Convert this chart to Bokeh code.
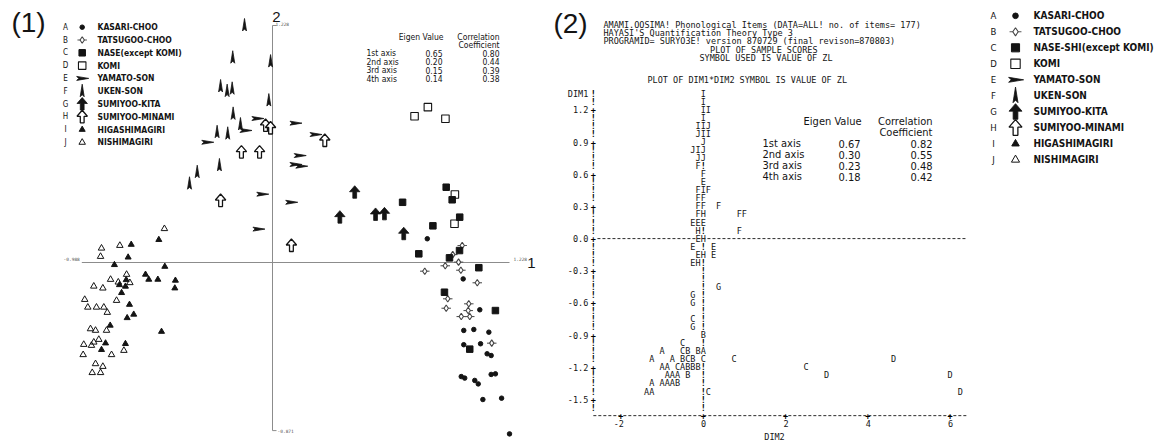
from bokeh.plotting import figure
from bokeh.layouts import row
from bokeh.models import Range1d
from bokeh.core.properties import value
from bokeh.embed import file_html
from bokeh.resources import INLINE

# ======================= DATA =======================
GROUP_CODES = ["A", "B", "C", "D", "E", "F", "G", "H", "I", "J"]
GROUP_NAMES_1 = ["KASARI-CHOO", "TATSUGOO-CHOO", "NASE(except KOMI)", "KOMI", "YAMATO-SON",
                 "UKEN-SON", "SUMIYOO-KITA", "SUMIYOO-MINAMI", "HIGASHIMAGIRI", "NISHIMAGIRI"]
GROUP_NAMES_2 = ["KASARI-CHOO", "TATSUGOO-CHOO", "NASE-SHI(except KOMI)", "KOMI", "YAMATO-SON",
                 "UKEN-SON", "SUMIYOO-KITA", "SUMIYOO-MINAMI", "HIGASHIMAGIRI", "NISHIMAGIRI"]

# ---- panel (1): sample scores, axis 1 (x) vs axis 2 (y)
kasari_x = [0.802, 0.988, 1.074, 0.991, 1.043, 1.121, 0.991, 1.078, 1.112, 1.133, 0.978, 0.996,
            1.048, 1.066, 1.133, 1.155, 1.090, 1.187, 1.228]
kasari_y = [0.123, -0.085, -0.245, -0.352, -0.347, -0.361, -0.426, -0.421, -0.473, -0.482, -0.591,
            -0.599, -0.611, -0.629, -0.580, -0.577, -0.710, -0.703, -0.888]
tatsugoo_x = [0.983, 0.934, 0.964, 0.895, 0.789, 0.976, 1.061, 0.908, 0.900, 1.017, 1.014, 0.978, 1.022, 1.136]
tatsugoo_y = [0.088, 0.041, 0.002, -0.017, -0.045, -0.040, -0.105, -0.188, -0.237, -0.214, -0.249,
              -0.280, -0.280, -0.418]
nase_x = [0.900, 0.931, 0.674, 0.970, 0.831, 0.758, 0.969, 0.917, 1.069, 0.891, 1.022, 1.155]
nase_y = [0.390, 0.325, 0.312, 0.235, 0.190, 0.045, 0.062, 0.024, -0.027, -0.154, -0.449, -0.249]
komi_x = [0.736, 0.805, 0.896, 0.945, 0.943]
komi_y = [0.758, 0.805, 0.745, 0.352, 0.201]
yamato_x = [-0.078, -0.140, -0.338, -0.053, -0.073, 0.119, 0.223, 0.141, 0.119, 0.149, 0.097]
yamato_y = [0.746, 0.684, 0.623, 0.354, 0.173, 0.722, 0.663, 0.554, 0.508, 0.499, 0.312]
uken_x = [-0.145, -0.206, -0.010, -0.269, -0.235, -0.209, -0.019, -0.204, -0.287, -0.232, -0.166,
          -0.275, -0.390, -0.430]
uken_y = [1.228, 1.061, 1.041, 0.912, 0.888, 0.900, 0.839, 0.770, 0.675, 0.667, 0.715, 0.503, 0.468, 0.408]
kita_x = [0.426, 0.349, 0.534, 0.580, 0.680]
kita_y = [0.364, 0.235, 0.249, 0.252, 0.149]
minami_x = [-0.036, -0.010, -0.161, -0.067, -0.269, 0.271, 0.098]
minami_y = [0.710, 0.697, 0.572, 0.572, 0.321, 0.632, 0.088]
higashi_x = [-0.589, -0.732, -0.748, -0.819, -0.558, -0.658, -0.641, -0.594, -0.503, -0.506, -0.758,
             -0.793, -0.762, -0.782, -0.741, -0.719, -0.753, -0.841, -0.575, -0.865, -0.886, -0.762]
higashi_y = [0.118, 0.093, 0.027, -0.012, -0.021, -0.062, -0.088, -0.088, -0.093, -0.133, -0.090,
             -0.116, -0.124, -0.157, -0.218, -0.269, -0.287, -0.326, -0.358, -0.418, -0.452, -0.421]
nishi_x = [-0.560, -0.886, -0.791, -0.891, -0.756, -0.839, -0.799, -0.739, -0.926, -0.879, -0.973,
           -0.808, -0.957, -0.912, -0.874, -0.856, -0.943, -0.917, -0.860, -0.900, -0.926, -0.978,
           -0.938, -0.770, -0.981, -0.834, -0.917, -0.879, -0.934, -0.891]
nishi_y = [0.175, 0.074, 0.088, 0.031, -0.062, -0.088, -0.102, -0.105, -0.123, -0.133, -0.192,
           -0.197, -0.232, -0.232, -0.232, -0.259, -0.344, -0.352, -0.352, -0.399, -0.413, -0.425,
           -0.430, -0.456, -0.478, -0.478, -0.525, -0.539, -0.571, -0.571]

axis1_x_ends = [-0.988, 1.228]
axis1_y_ends = [-0.871, 1.228]
axis1_x_end_labels = ["-0.988", "1.228"]
axis1_y_end_labels = ["-0.871", "1.228"]

eig_axes = ["1st axis", "2nd axis", "3rd axis", "4th axis"]
eig1_values = ["0.65", "0.20", "0.15", "0.14"]
corr1_values = ["0.80", "0.44", "0.39", "0.38"]
eig2_values = ["0.67", "0.30", "0.23", "0.18"]
corr2_values = ["0.82", "0.55", "0.48", "0.42"]

# ---- panel (2): line-printer plot, DIM2 (x) vs DIM1 (y), symbol = ZL
zlA_dim2 = [-1.0, 0.0, -1.25, -0.75, -1.0, -0.875, -0.5, -0.875, -0.75, -0.625, -1.25, -1.0, -0.875, -0.75, -1.375, -1.25]
zlA_dim1 = [-1.05, -1.05, -1.125, -1.125, -1.2, -1.2, -1.2, -1.275, -1.275, -1.275, -1.35, -1.35, -1.35, -1.35, -1.425, -1.425]
zlB_dim2 = [0.0, -0.375, -0.125, -0.5, -0.25, -0.375, -0.25, -0.125, -0.375, -0.625]
zlB_dim1 = [-0.9, -1.05, -1.05, -1.125, -1.125, -1.2, -1.2, -1.2, -1.275, -1.35]
zlC_dim2 = [-0.25, -0.5, -0.5, -0.375, 0.0, 0.75, -0.625, 2.5, 0.125]
zlC_dim1 = [-0.75, -0.975, -1.05, -1.125, -1.125, -1.125, -1.2, -1.2, -1.425]
zlD_dim2 = [4.625, 3.0, 6.0, 6.25]
zlD_dim1 = [-1.125, -1.275, -1.275, -1.425]
zlE_dim2 = [0.0, -0.25, -0.125, 0.0, -0.125, -0.25, 0.25, -0.125, 0.25, -0.25]
zlE_dim1 = [0.525, 0.15, 0.15, 0.15, 0.0, -0.075, -0.075, -0.15, -0.15, -0.225]
zlF_dim2 = [-0.125, 0.0, -0.125, 0.125, -0.125, 0.0, -0.125, 0.0, 0.375, -0.125, 0.875, 1.0, 0.875]
zlF_dim1 = [0.675, 0.6, 0.45, 0.45, 0.375, 0.375, 0.3, 0.3, 0.3, 0.225, 0.225, 0.225, 0.075]
zlG_dim2 = [0.375, -0.25, -0.25, -0.25]
zlG_dim1 = [-0.45, -0.525, -0.6, -0.825]
zlH_dim2 = [0.0, -0.125, 0.0, 0.0, -0.125]
zlH_dim1 = [0.225, 0.075, 0.0, -0.15, -0.225]
zlI_dim2 = [0.0, 0.0, 0.0, 0.125, 0.0, -0.125, 0.0, 0.0, 0.125, -0.125, 0.0]
zlI_dim1 = [1.35, 1.275, 1.2, 1.2, 1.125, 1.05, 1.05, 0.975, 0.975, 0.825, 0.45]
zlJ_dim2 = [0.125, -0.125, 0.0, -0.25, 0.0, -0.125, 0.0]
zlJ_dim1 = [1.05, 0.975, 0.9, 0.825, 0.825, 0.75, 0.75]

dim1_ticks = [1.2, 0.9, 0.6, 0.3, 0.0, -0.3, -0.6, -0.9, -1.2, -1.5]
dim1_tick_labels = ["1.2", "0.9", "0.6", "0.3", "0.0", "-0.3", "-0.6", "-0.9", "-1.2", "-1.5"]
dim2_ticks = [-2, 0, 2, 4, 6]
dim2_tick_labels = ["-2", "0", "2", "4", "6"]
dim1_row_step = 0.075          # printer line height in DIM1 units
dim1_top, dim1_bottom_axis = 1.35, -1.65
dim2_left_axis, dim2_right_end = -2.67, 6.42

header_lines = ["AMAMI.OOSIMA! Phonological Items (DATA=ALL! no. of items= 177)",
                "HAYASI'S Quantification Theory Type 3",
                "PROGRAMID= SURYO3E! version 870729 (final revison=870803)",
                "PLOT OF SAMPLE SCORES",
                "SYMBOL USED IS VALUE OF ZL",
                "PLOT OF DIM1*DIM2    SYMBOL IS VALUE OF ZL"]

# ======================= LAYOUT / STYLE =======================
OFF = 0
W, H = 1162, 443
SPLIT = 548
INK = "#141414"
COND = "DejaVu Sans Condensed"
MONO = "DejaVu Sans Mono"
SANS = "Liberation Sans"

S1, OX1, OY1 = 193.0, 272.0, 262.0
S2X, S2Y, OX2, OY2 = 41.15, 107.3, 702.7, 238.1


def X1(px): return (px - OX1) / S1
def Y1(py): return (OY1 - py) / S1
def X2(px): return (px - OX2) / S2X
def Y2(py): return (OY2 - py) / S2Y


E_POLY = [(6.5, 0), (-5.5, 2.0), (-3.5, 0), (-5.5, -2.0)]
F_POLY = [(0, 7), (2.0, -5.5), (0, -3.5), (-2.0, -5.5)]
ARROW_POLY = [(0, 6.5), (5.2, 0.5), (1.9, 0.5), (1.9, -6), (-1.9, -6), (-1.9, 0.5), (-5.2, 0.5)]


def make_fig(width, xr, yr):
    p = figure(width=width, height=H - 2 * OFF, x_range=Range1d(*xr), y_range=Range1d(*yr),
               output_backend="svg", toolbar_location=None, min_border=0,
               x_axis_location=None, y_axis_location=None)
    p.grid.visible = False
    p.outline_line_color = None
    p.title.visible = False
    p.background_fill_color = "white"
    p.border_fill_color = "white"
    return p


def txt(p, xs, ys, texts, font, size, align="left", baseline="middle", style="normal",
        color=INK, xo=0, yo=0):
    p.text(x=list(xs), y=list(ys), text=list(texts), text_font=value(font),
           text_font_size=f"{size}px", text_align=align, text_baseline=baseline,
           text_font_style=style, text_color=color, x_offset=xo, y_offset=yo)


def draw_marks(p, code, xs, ys, sx, sy, k=1.0):
    xs, ys = list(xs), list(ys)
    if code == "A":
        p.scatter(xs, ys, marker="circle", size=4.5 * k, fill_color=INK, line_color=INK)
    elif code == "B":
        p.scatter(xs, ys, marker="dash", size=9.5 * k, line_color="#555555", line_width=1.1)
        p.scatter(xs, ys, marker="diamond", size=6.5 * k, fill_color="white", line_color="#444444", line_width=1.1)
    elif code == "C":
        p.scatter(xs, ys, marker="square", size=6.5 * k, fill_color=INK, line_color=INK)
    elif code == "D":
        p.scatter(xs, ys, marker="square", size=7.5 * k, fill_color=None, line_color=INK, line_width=1.1)
    elif code in ("E", "F", "G", "H"):
        poly = {"E": E_POLY, "F": F_POLY, "G": ARROW_POLY, "H": ARROW_POLY}[code]
        pxs = [[x + dx * k / sx for dx, dy in poly] for x, y in zip(xs, ys)]
        pys = [[y + dy * k / sy for dx, dy in poly] for x, y in zip(xs, ys)]
        if code == "H":
            p.patches(pxs, pys, fill_color="white", line_color=INK, line_width=1.3)
        else:
            p.patches(pxs, pys, fill_color=INK, line_color=INK, line_width=0.8)
    elif code == "I":
        p.scatter(xs, ys, marker="triangle", size=6 * k, fill_color=INK, line_color=INK)
    elif code == "J":
        p.scatter(xs, ys, marker="triangle", size=6.5 * k, fill_color=None, line_color=INK, line_width=1)


# ======================= PANEL (1) =======================
p1 = make_fig(SPLIT - OFF, (X1(OFF), X1(SPLIT)), (Y1(H - OFF), Y1(OFF)))

# cross axes
p1.segment(x0=[axis1_x_ends[0], 0], y0=[0, axis1_y_ends[0]], x1=[axis1_x_ends[1], 0], y1=[0, axis1_y_ends[1]],
           line_color="#8c8c8c", line_width=1)
p1.segment(x0=[0, 0], y0=axis1_y_ends, x1=[4 / S1, 4 / S1], y1=axis1_y_ends, line_color="#8c8c8c", line_width=1)
txt(p1, [axis1_x_ends[0]], [0], [axis1_x_end_labels[0]], MONO, 4.5, align="right", baseline="bottom", xo=-2, yo=-2, color="#555")
txt(p1, [axis1_x_ends[1]], [0], [axis1_x_end_labels[1]], MONO, 4.5, align="left", baseline="bottom", xo=4, yo=-2, color="#555")
txt(p1, [0], [axis1_y_ends[1]], [axis1_y_end_labels[1]], MONO, 4.5, align="left", baseline="middle", xo=3, yo=-1, color="#555")
txt(p1, [0], [axis1_y_ends[0]], [axis1_y_end_labels[0]], MONO, 4.5, align="left", baseline="middle", xo=5, yo=0, color="#555")
txt(p1, [axis1_x_ends[1]], [0], ["1"], SANS, 15, align="center", xo=22)
txt(p1, [0], [axis1_y_ends[1]], ["2"], SANS, 15, align="center", xo=4, yo=-8)
txt(p1, [X1(28)], [Y1(22)], ["(1)"], SANS, 28, align="center")

panel1 = [("A", kasari_x, kasari_y), ("B", tatsugoo_x, tatsugoo_y), ("C", nase_x, nase_y),
          ("D", komi_x, komi_y), ("E", yamato_x, yamato_y), ("F", uken_x, uken_y),
          ("G", kita_x, kita_y), ("H", minami_x, minami_y), ("I", higashi_x, higashi_y),
          ("J", nishi_x, nishi_y)]
for code, xs, ys in panel1:
    draw_marks(p1, code, xs, ys, S1, S1)

# legend (1)
leg1_y = [Y1(26.7 + 12.8 * i) for i in range(10)]
txt(p1, [X1(65)] * 10, leg1_y, GROUP_CODES, COND, 8, align="center")
txt(p1, [X1(97)] * 10, leg1_y, GROUP_NAMES_1, COND, 8.5, style="bold")
for i, code in enumerate(GROUP_CODES):
    draw_marks(p1, code, [X1(81.7)], [leg1_y[i]], S1, S1)

# eigen table (1)
TF1 = 8.5
txt(p1, [X1(443)], [Y1(36)], ["Eigen Value"], COND, TF1, align="right")
txt(p1, [X1(499), X1(499)], [Y1(36), Y1(44.3)], ["Correlation", "Coefficient"], COND, TF1, align="right")
rows1 = [Y1(52.7 + 8.5 * i) for i in range(4)]
txt(p1, [X1(366)] * 4, rows1, eig_axes, COND, TF1)
txt(p1, [X1(442)] * 4, rows1, eig1_values, COND, TF1, align="right")
txt(p1, [X1(499)] * 4, rows1, corr1_values, COND, TF1, align="right")

# ======================= PANEL (2) =======================
p2 = make_fig(W - OFF - SPLIT, (X2(SPLIT), X2(W - OFF)), (Y2(H - OFF), Y2(OFF)))
PF = 8.5  # printer font size

txt(p2, [X2(570)], [Y2(23)], ["(2)"], SANS, 28, align="center")
head_pos = [(603, 24), (603, 32.3), (603, 40.7), (709.6, 49), (699, 57.3), (647, 79)]
txt(p2, [X2(a) for a, b in head_pos], [Y2(b) for a, b in head_pos], header_lines, MONO, PF)

# printer rows
n_rows = int(round((dim1_top - dim1_bottom_axis) / dim1_row_step))
row_vals = [round(dim1_top - i * dim1_row_step, 4) for i in range(n_rows)]
tick_set = set(round(t, 4) for t in dim1_ticks)
txt(p2, [dim2_left_axis] * len(row_vals), row_vals,
    ["+" if r in tick_set else "!" for r in row_vals], MONO, PF, align="center", style="bold", color="#000000")
txt(p2, [dim2_left_axis] * len(dim1_ticks), dim1_ticks, dim1_tick_labels, MONO, PF, align="right", xo=-5)
txt(p2, [dim2_left_axis], [dim1_top], ["DIM1"], MONO, PF, align="right", xo=-5)

panel2 = [("A", zlA_dim2, zlA_dim1), ("B", zlB_dim2, zlB_dim1), ("C", zlC_dim2, zlC_dim1),
          ("D", zlD_dim2, zlD_dim1), ("E", zlE_dim2, zlE_dim1), ("F", zlF_dim2, zlF_dim1),
          ("G", zlG_dim2, zlG_dim1), ("H", zlH_dim2, zlH_dim1), ("I", zlI_dim2, zlI_dim1),
          ("J", zlJ_dim2, zlJ_dim1)]
occupied0 = set()
for code, xs, ys in panel2:
    txt(p2, xs, ys, [code] * len(xs), MONO, PF, align="center")
    for a, b in zip(xs, ys):
        if abs(a) < 1e-9:
            occupied0.add(round(b, 4))

# reference "!" column at DIM2 = 0 and dashed line at DIM1 = 0
bang_rows = [r for r in row_vals if r not in occupied0 and abs(r) > 1e-9]
txt(p2, [0] * len(bang_rows), bang_rows, ["!"] * len(bang_rows), MONO, PF, align="center",
    style="bold", color="#000000")
p2.segment(x0=[dim2_left_axis + 0.1, dim2_left_axis], y0=[0, dim1_bottom_axis],
           x1=[dim2_right_end, dim2_right_end], y1=[0, dim1_bottom_axis],
           line_color="#2a2a2a", line_width=1, line_dash="3 2")
txt(p2, dim2_ticks, [dim1_bottom_axis] * len(dim2_ticks), ["+"] * len(dim2_ticks), MONO, PF,
    align="center", style="bold", color="#000000")
txt(p2, dim2_ticks, [dim1_bottom_axis] * len(dim2_ticks), dim2_tick_labels, MONO, PF, align="right", xo=3, yo=8)
txt(p2, [X2(774)], [dim1_bottom_axis], ["DIM2"], MONO, PF, align="center", yo=21)

# eigen table (2)
TF2 = 11
txt(p2, [X2(861)], [Y2(121)], ["Eigen Value"], COND, TF2, align="right")
txt(p2, [X2(932), X2(932)], [Y2(121), Y2(132)], ["Correlation", "Coefficient"], COND, TF2, align="right")
rows2 = [Y2(143 + 11 * i) for i in range(4)]
txt(p2, [X2(762)] * 4, rows2, eig_axes, COND, TF2)
txt(p2, [X2(860)] * 4, rows2, eig2_values, COND, TF2, align="right")
txt(p2, [X2(932)] * 4, rows2, corr2_values, COND, TF2, align="right")

# legend (2)
leg2_y = [Y2(15.3 + 16 * i) for i in range(10)]
txt(p2, [X2(993)] * 10, leg2_y, GROUP_CODES, COND, 9.5, align="center")
txt(p2, [X2(1033)] * 10, leg2_y, GROUP_NAMES_2, COND, 10, style="bold")
for i, code in enumerate(GROUP_CODES):
    draw_marks(p2, code, [X2(1015)], [leg2_y[i]], S2X, S2Y, k=1.25)

layout = row(p1, p2, spacing=0)
open("out.html", "w").write(file_html(layout, INLINE))
